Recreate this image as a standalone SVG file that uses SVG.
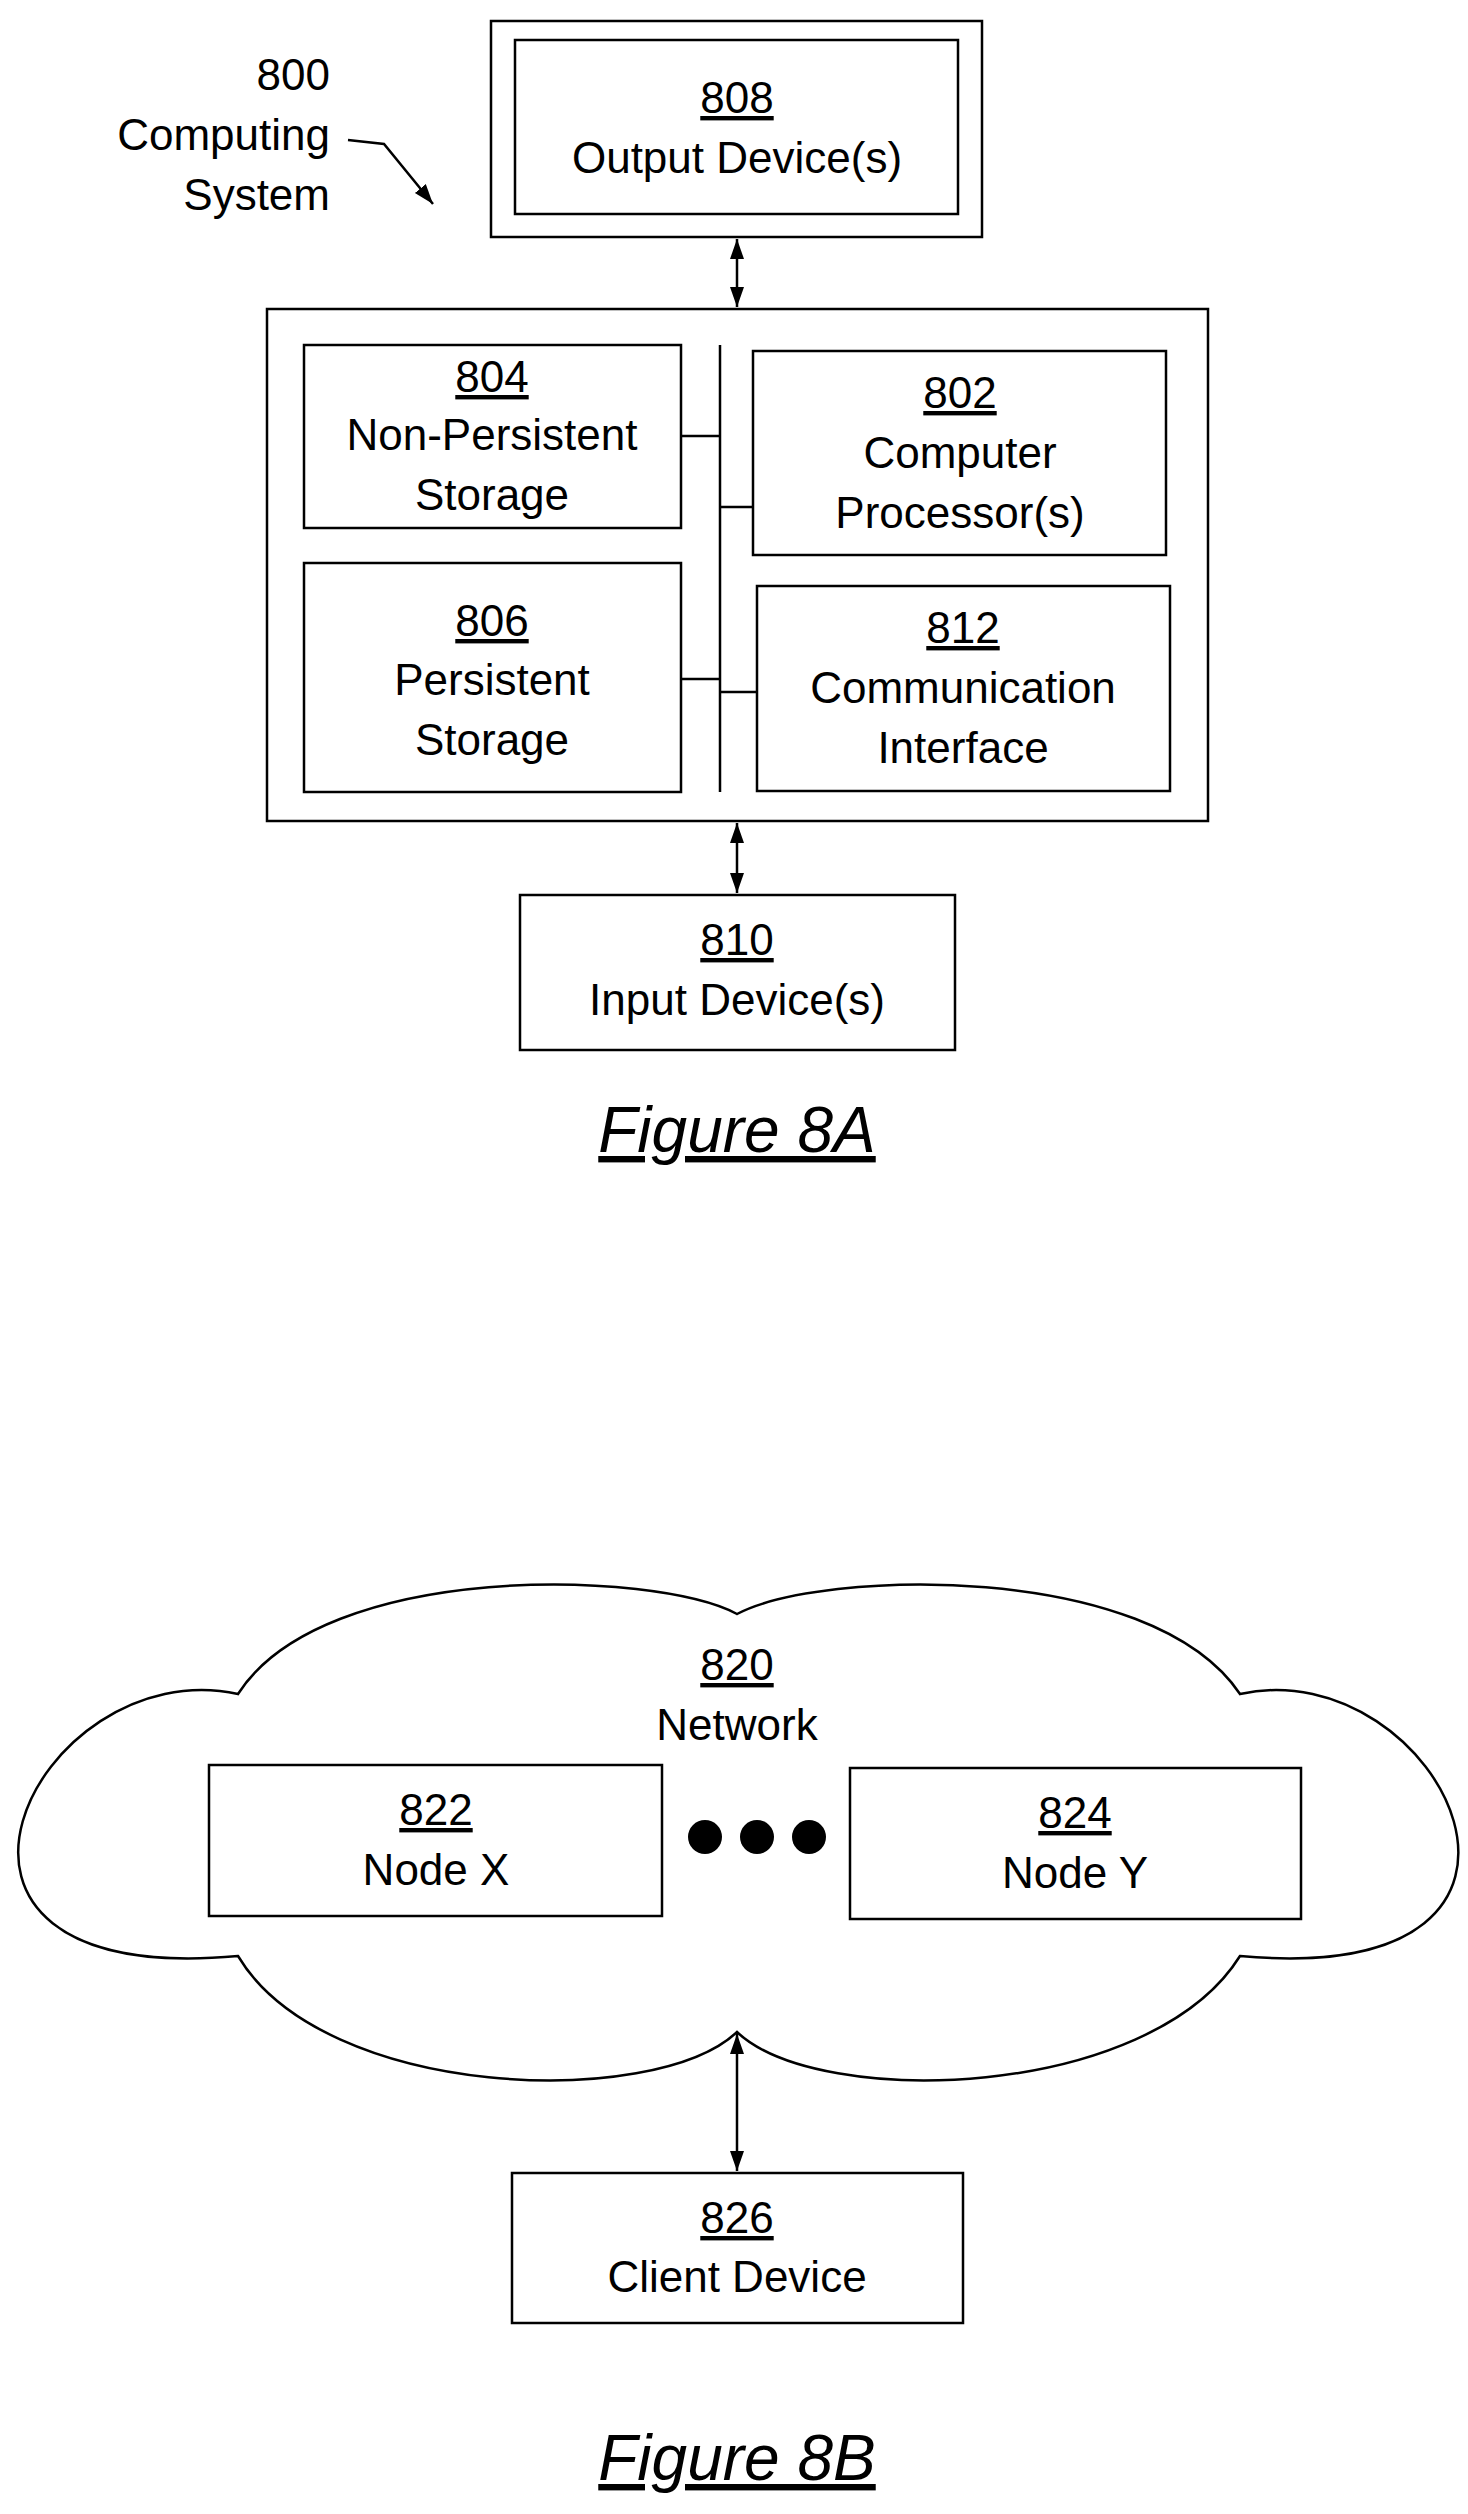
<svg xmlns="http://www.w3.org/2000/svg" width="1468" height="2514" viewBox="0 0 1468 2514">
<style>
.b{fill:#fff;stroke:#000;stroke-width:2.5}
.t{font-family:"Liberation Sans",Arial,sans-serif;font-size:44px;text-anchor:middle;fill:#000}
.u{text-decoration:underline}
.l{stroke:#000;stroke-width:2.5;fill:none}
.f{font-family:"Liberation Sans",Arial,sans-serif;font-size:64px;font-style:italic;text-anchor:middle;text-decoration:underline}
</style>
<defs>
<marker id="a" viewBox="0 0 10 10" refX="10" refY="5" markerWidth="7" markerHeight="7" orient="auto-start-reverse" markerUnits="userSpaceOnUse">
<path d="M0,0 L10,5 L0,10 z"/></marker>
<marker id="a2" viewBox="0 0 10 10" refX="10" refY="5" markerWidth="20" markerHeight="20" orient="auto-start-reverse" markerUnits="userSpaceOnUse">
<path d="M0,1.5 L10,5 L0,8.5 z"/></marker>
</defs>
<rect width="1468" height="2514" fill="#fff"/>
<g id="label800">
<text class="t" text-anchor="end" style="text-anchor:end" x="330" y="90">800</text>
<text class="t" style="text-anchor:end" x="330" y="150">Computing</text>
<text class="t" style="text-anchor:end" x="330" y="210">System</text>
</g>
<g id="n808">
<rect class="b" x="491" y="21" width="491" height="216"/>
<rect class="b" x="515" y="40" width="443" height="174"/>
<text class="t u" x="737" y="113">808</text>
<text class="t" x="737" y="173">Output Device(s)</text>
</g>
<g id="n800box"><rect class="b" x="267" y="309" width="941" height="512"/></g>
<g id="n804"><rect class="b" x="304" y="345" width="377" height="183"/>
<text class="t u" x="492" y="392">804</text><text class="t" x="492" y="450">Non-Persistent</text><text class="t" x="492" y="510">Storage</text></g>
<g id="n806"><rect class="b" x="304" y="563" width="377" height="229"/>
<text class="t u" x="492" y="636">806</text><text class="t" x="492" y="695">Persistent</text><text class="t" x="492" y="755">Storage</text></g>
<g id="n802"><rect class="b" x="753" y="351" width="413" height="204"/>
<text class="t u" x="960" y="408">802</text><text class="t" x="960" y="468">Computer</text><text class="t" x="960" y="528">Processor(s)</text></g>
<g id="n812"><rect class="b" x="757" y="586" width="413" height="205"/>
<text class="t u" x="963" y="643">812</text><text class="t" x="963" y="703">Communication</text><text class="t" x="963" y="763">Interface</text></g>
<g id="n810"><rect class="b" x="520" y="895" width="435" height="155"/>
<text class="t u" x="737" y="955">810</text><text class="t" x="737" y="1015">Input Device(s)</text></g>
<text class="f" x="737" y="1152">Figure 8A</text>
<g id="n820">
<path class="l" d="M737,1614 C820,1570 1150,1560 1240,1694 C1440,1650 1610,1990 1240,1956 C1150,2100 820,2110 737,2032 C654,2110 324,2100 238,1956 C-134,1990 36,1650 238,1694 C324,1560 654,1570 737,1614 Z"/>
<text class="t u" x="737" y="1680">820</text><text class="t" x="737" y="1740">Network</text>
</g>
<g id="n822"><rect class="b" x="209" y="1765" width="453" height="151"/>
<text class="t u" x="436" y="1825">822</text><text class="t" x="436" y="1885">Node X</text></g>
<g id="n824"><rect class="b" x="850" y="1768" width="451" height="151"/>
<text class="t u" x="1075" y="1828">824</text><text class="t" x="1075" y="1888">Node Y</text></g>
<g id="dots"><circle cx="705" cy="1837" r="17"/><circle cx="757" cy="1837" r="17"/><circle cx="809" cy="1837" r="17"/></g>
<g id="n826"><rect class="b" x="512" y="2173" width="451" height="150"/>
<text class="t u" x="737" y="2233">826</text><text class="t" x="737" y="2292">Client Device</text></g>
<text class="f" x="737" y="2480">Figure 8B</text>
<g id="connectors">
<line class="l" x1="737" y1="239" x2="737" y2="307" marker-start="url(#a2)" marker-end="url(#a2)"/>
<line class="l" x1="737" y1="823" x2="737" y2="893" marker-start="url(#a2)" marker-end="url(#a2)"/>
<line class="l" x1="737" y1="2034" x2="737" y2="2171" marker-start="url(#a2)" marker-end="url(#a2)"/>
<line class="l" x1="720" y1="345" x2="720" y2="792"/>
<line class="l" x1="681" y1="436" x2="720" y2="436"/>
<line class="l" x1="720" y1="507" x2="753" y2="507"/>
<line class="l" x1="681" y1="679" x2="720" y2="679"/>
<line class="l" x1="720" y1="692" x2="757" y2="692"/>
<path class="l" d="M348,140 L384,144 L433,204" marker-end="url(#a2)"/>
</g>
</svg>
